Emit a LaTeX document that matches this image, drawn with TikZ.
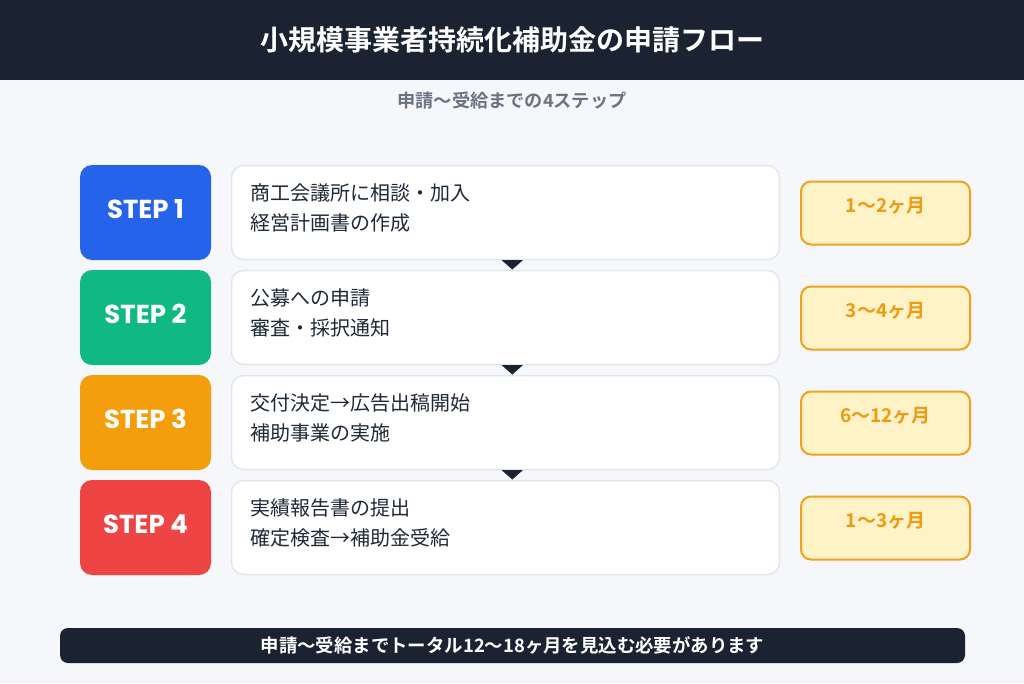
\documentclass[tikz,border=0pt]{standalone}
\usepackage{fontspec}
\setmainfont{Noto Sans CJK JP}[BoldFont={Noto Sans CJK JP Bold}]
\newfontfamily\stepfont{Poppins}[BoldFont={Poppins Bold}]
\usetikzlibrary{calc}
\definecolor{bgc}{HTML}{F5F7FA}
\definecolor{hdr}{HTML}{1B2332}
\definecolor{subc}{HTML}{6B7280}
\definecolor{cbord}{HTML}{E2E6EC}
\definecolor{ctext}{HTML}{1F2937}
\definecolor{blu}{HTML}{2563EB}
\definecolor{grn}{HTML}{10B981}
\definecolor{org}{HTML}{F59E0B}
\definecolor{rd}{HTML}{EF4444}
\definecolor{dfill}{HTML}{FEF3C7}
\definecolor{dbord}{HTML}{F0A21E}
\definecolor{dtext}{HTML}{EE9A12}
\begin{document}
\begin{tikzpicture}[x=1pt,y=-1pt,
  stepbox/.style={rounded corners=12pt, minimum width=131pt, minimum height=95pt, inner sep=0pt,
    text=white},
  steplabel/.style={inner sep=0pt, text=white, font=\stepfont\bfseries\fontsize{26}{30}\selectfont},
  contentbox/.style={draw=cbord, line width=1.5pt, fill=white, rounded corners=12pt,
    minimum width=548pt, minimum height=94pt, inner sep=0pt},
  linetext/.style={anchor=west, inner sep=0pt, text=ctext, font=\fontsize{20}{24}\selectfont},
  durbox/.style={draw=dbord, line width=2pt, fill=dfill, rounded corners=10pt,
    minimum width=169pt, minimum height=63pt, inner sep=0pt},
  durtext/.style={inner sep=0pt, text=dtext, font=\bfseries\fontsize{19}{22}\selectfont},
  tri/.style={fill=hdr}
]
\useasboundingbox (0,0) rectangle (1024,683);
\fill[bgc] (0,0) rectangle (1024,683);
\fill[hdr] (0,0) rectangle (1024,80);
\node[text=white, font=\bfseries\fontsize{28}{32}\selectfont] (title) at (512,40) {小規模事業者持続化補助金の申請フロー};
\node[text=subc, font=\bfseries\fontsize{18.2}{22}\selectfont] (sub) at (512,101) {申請〜受給までの4ステップ};

% rows
\foreach \i/\col/\lab/\la/\lb/\dur in {
  1/blu/STEP 1/商工会議所に相談・加入/経営計画書の作成/1〜2ヶ月,
  2/grn/STEP 2/公募への申請/審査・採択通知/3〜4ヶ月,
  3/org/STEP 3/交付決定→広告出稿開始/補助事業の実施/6〜12ヶ月,
  4/rd/STEP 4/実績報告書の提出/確定検査→補助金受給/1〜3ヶ月}{
  \pgfmathsetmacro{\yc}{212.5+105*(\i-1)}
  \node[stepbox, fill=\col] (s\i) at (145.5,\yc) {};
  \node[steplabel] (s\i t) at (145.5,\yc-3.5) {\lab};
  \node[contentbox] (c\i) at (505.5,\yc) {};
  \node[linetext] (c\i a) at (250,\yc-19.5) {\la};
  \node[linetext] (c\i b) at (250,\yc+10.5) {\lb};
  \node[durbox] (d\i) at (885.5,\yc+0.5) {};
  \node[durtext] (d\i t) at (885.5,\yc-7) {\dur};
}

% down triangles between rows
\foreach \i in {1,2,3}{
  \pgfmathsetmacro{\yt}{260+105*(\i-1)}
  \coordinate (ta\i) at (501.5,\yt);
  \coordinate (tb\i) at (523,\yt);
  \coordinate (tc\i) at (512.25,\yt+9.5);
  \fill[tri] (ta\i) -- (tb\i) -- (tc\i) -- cycle;
}

% bottom bar
\node[fill=hdr, rounded corners=8pt, minimum width=905pt, minimum height=35pt, inner sep=0pt] (bar) at (512.5,645.5) {};
\node[text=white, font=\bfseries\fontsize{18.4}{22}\selectfont] (bart) at (bar.center) {申請〜受給までトータル12〜18ヶ月を見込む必要があります};
\end{tikzpicture}
\end{document}
